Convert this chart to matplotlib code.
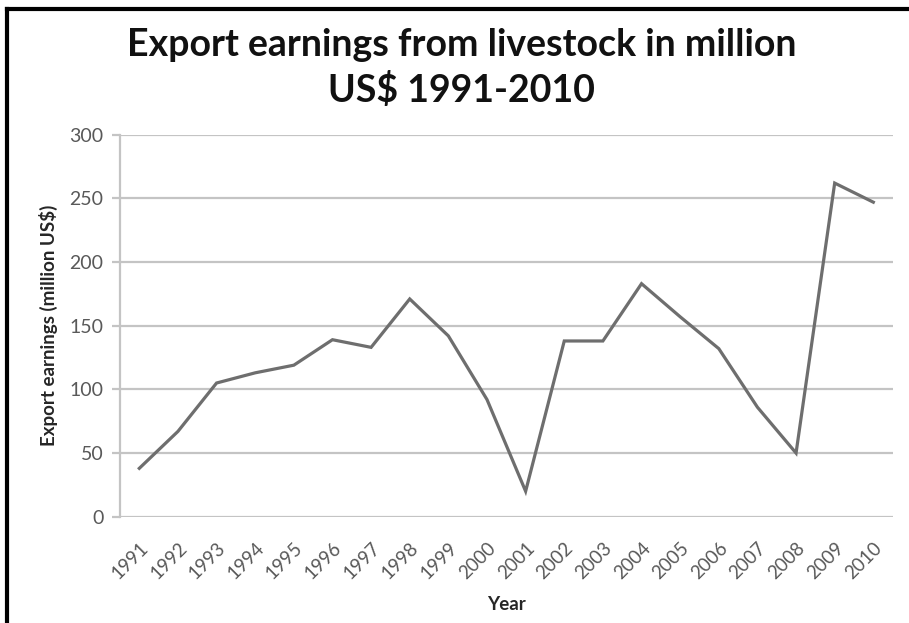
import matplotlib
matplotlib.use("Agg")
import matplotlib.pyplot as plt
from matplotlib.lines import Line2D

plt.rcParams['font.family'] = ['Lato', 'DejaVu Sans']

years = [str(y) for y in range(1991, 2011)]
earnings = [38, 67, 105, 113, 119, 139, 133, 171, 142, 92,
            20, 138, 138, 183, 157, 132, 86, 50, 262, 247]
y_ticks = [0, 50, 100, 150, 200, 250, 300]

fig = plt.figure(figsize=(9.09, 6.23), dpi=100)
ax = fig.add_axes([0.132, 0.1706, 0.850, 0.6132])

ax.plot(range(len(years)), earnings, color='#6e6e6e', linewidth=2.3,
        solid_joinstyle='miter')

ax.set_xlim(-0.5, len(years) - 0.5)
ax.set_ylim(0, 300)
ax.set_yticks(y_ticks)
ax.set_xticks(range(len(years)))
ax.set_xticklabels(years, rotation=45, ha='right', rotation_mode='anchor')

ax.grid(axis='y', color='#c4c4c4', linewidth=1.6)
ax.set_axisbelow(True)
for side in ['top', 'right', 'bottom']:
    ax.spines[side].set_visible(False)
ax.spines['left'].set_color('#c4c4c4')
ax.spines['left'].set_linewidth(1.6)

ax.tick_params(axis='y', colors='#c4c4c4', length=6, width=1.6,
               labelcolor='#595959', labelsize=14, pad=6)
ax.tick_params(axis='x', length=0, labelcolor='#595959', labelsize=13.5, pad=16)

ax.set_ylabel('Export earnings (million US$)', fontsize=13.5,
              fontweight='bold', color='#262626', labelpad=8)
ax.set_xlabel('Year', fontsize=13.5, fontweight='bold', color='#262626',
              labelpad=10)

fig.text(0.508, 0.891, 'Export earnings from livestock in million\nUS$ 1991-2010',
         ha='center', va='center', fontsize=27, fontweight='bold',
         color='#111111', linespacing=1.32)

# black frame on top and left edges
fig.add_artist(Line2D([0.0077, 1.0], [0.9855, 0.9855], color='black',
                      linewidth=3, transform=fig.transFigure))
fig.add_artist(Line2D([0.0077, 0.0077], [0.0, 0.9855], color='black',
                      linewidth=3, transform=fig.transFigure))

fig.savefig('out.png', dpi=100)
